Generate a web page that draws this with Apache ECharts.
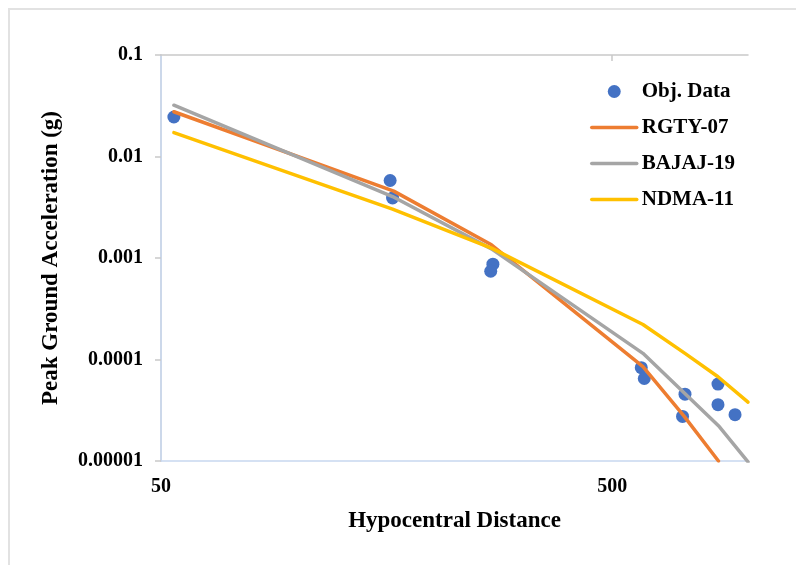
<!DOCTYPE html>
<html>
<head>
<meta charset="utf-8">
<script src="https://cdn.jsdelivr.net/npm/echarts@6/dist/echarts.min.js"></script>
<style>html,body{margin:0;padding:0;background:#fff;}#chart{width:803px;height:565px;}</style>
</head>
<body>
<div id="chart"></div>
<script>
// ---- data ----
const objData = [[53.4,0.0245],[161,0.0058],[163,0.0039],[272,0.00087],[269,0.00074],[580,0.000083],[589,0.000065],[725,0.0000455],[716,0.0000275],[858,0.0000572],[858,0.0000359],[936,0.0000286]];
const rgtyX = [53.4,164,270,585,720,860];
const rgtyY = [0.0276,0.00456,0.00135,0.000085,0.000028,0.00001];
const bajajX = [53.4,163,270,585,860,1000];
const bajajY = [0.032,0.00403,0.00123,0.000115,0.0000223,0.0000098];
const ndmaX = [53.4,163,270,585,725,858,1000];
const ndmaY = [0.0172,0.00303,0.00125,0.000221,0.000115,0.0000676,0.000038];
const xMin = 50, xMax = 1000;
const xTickLabels = ['50','500'];
const yTickLabels = ['0.00001','0.0001','0.001','0.01','0.1'];
const seriesNames = ['Obj. Data','RGTY-07','BAJAJ-19','NDMA-11'];

const font = "'Liberation Serif','Times New Roman',serif";
const gray = '#c9c9c9', blue = '#c8d8f0';
const pairs = (xs, ys) => xs.map((x,i)=>[x, ys[i]]);
const span = Math.log10(xMax/xMin);

const chart = echarts.init(document.getElementById('chart'));
chart.setOption({
  animation: false,
  backgroundColor: '#fff',
  graphic: [
    {type:'line', shape:{x1:8,y1:9,x2:796,y2:9}, style:{stroke:'#e2e2e2', lineWidth:2}},
    {type:'line', shape:{x1:9,y1:9,x2:9,y2:565}, style:{stroke:'#e2e2e2', lineWidth:2}}
  ],
  grid: {left:161, right:55, top:55, bottom:104, containLabel:false},
  legend: {
    orient:'vertical', left:590, top:81, padding:0, itemGap:15,
    itemWidth:45, itemHeight:13,
    lineStyle:{width:3.5},
    textStyle:{fontFamily:font, fontWeight:'bold', fontSize:21, color:'#000', lineHeight:21},
    data: [
      {name: seriesNames[0], itemStyle:{opacity:1}},
      {name: seriesNames[1], itemStyle:{opacity:0}},
      {name: seriesNames[2], itemStyle:{opacity:0}},
      {name: seriesNames[3], itemStyle:{opacity:0}}
    ]
  },
  xAxis: [
    {type:'log', logBase:10, min:xMin, max:xMax, position:'bottom',
     axisLine:{show:true, lineStyle:{color:blue, width:1.5}}, axisTick:{show:false}, axisLabel:{show:false}, splitLine:{show:false}, minorTick:{show:false},
     name:'Hypocentral Distance', nameLocation:'middle', nameGap:49,
     nameTextStyle:{fontFamily:font, fontWeight:'bold', fontSize:23, color:'#000'}},
    {type:'value', min:0, max:span, interval:1, position:'bottom',
     axisLine:{show:false}, axisTick:{show:false}, splitLine:{show:false},
     axisLabel:{show:true, margin:16, showMaxLabel:false, fontFamily:font, fontWeight:'bold', fontSize:20, color:'#000',
       formatter:(v)=>{const i=Math.round(v); return Math.abs(v-i)<1e-6 && xTickLabels[i]!==undefined ? xTickLabels[i] : '';}}},
    {type:'value', min:0, max:span, interval:1, position:'top',
     axisLine:{show:true, lineStyle:{color:gray, width:1.5}},
     axisTick:{show:true, inside:true, length:6, customValues:[1], lineStyle:{color:gray, width:1.5}},
     axisLabel:{show:false}, splitLine:{show:false}}
  ],
  yAxis: [
    {type:'log', logBase:10, min:0.00001, max:0.1, splitNumber:4, position:'left',
     axisLine:{show:true, lineStyle:{color:gray, width:1.5}},
     axisTick:{show:true, inside:false, length:6, lineStyle:{color:gray, width:1.5}},
     splitLine:{show:false}, minorTick:{show:false},
     axisLabel:{margin:18, fontFamily:font, fontWeight:'bold', fontSize:20, color:'#000',
       formatter:(v)=>{const i=Math.round(Math.log10(v))+5; return yTickLabels[i]!==undefined ? yTickLabels[i] : '';}},
     name:'Peak Ground Acceleration (g)', nameLocation:'middle', nameGap:98, nameRotate:90,
     nameTextStyle:{fontFamily:font, fontWeight:'bold', fontSize:23, color:'#000'}},
    {type:'log', logBase:10, min:0.00001, max:0.1, position:'right',
     axisLine:{show:true, lineStyle:{color:blue, width:1.5}}, axisTick:{show:false}, axisLabel:{show:false}, splitLine:{show:false}}
  ],
  series: [
    {name:seriesNames[0], type:'scatter', xAxisIndex:0, yAxisIndex:0, data:objData, symbol:'circle', symbolSize:13,
     itemStyle:{color:'#4472c4', opacity:1}},
    {name:seriesNames[1], type:'line', xAxisIndex:0, yAxisIndex:0, data:pairs(rgtyX,rgtyY), symbol:'none', clip:true,
     lineStyle:{color:'#ed7d31', width:3.5, cap:'round', join:'round'}, itemStyle:{color:'#ed7d31'}},
    {name:seriesNames[2], type:'line', xAxisIndex:0, yAxisIndex:0, data:pairs(bajajX,bajajY), symbol:'none', clip:true,
     lineStyle:{color:'#a5a5a5', width:3.5, cap:'round', join:'round'}, itemStyle:{color:'#a5a5a5'}},
    {name:seriesNames[3], type:'line', xAxisIndex:0, yAxisIndex:0, data:pairs(ndmaX,ndmaY), symbol:'none', clip:true,
     lineStyle:{color:'#ffc000', width:3.5, cap:'round', join:'round'}, itemStyle:{color:'#ffc000'}}
  ]
});
</script>
</body>
</html>
